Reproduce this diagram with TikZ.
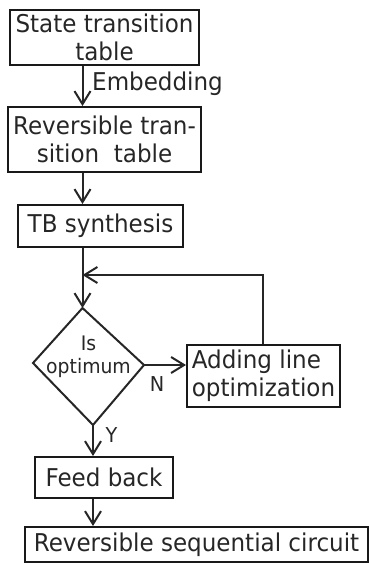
\documentclass[tikz,border=0pt]{standalone}
\usepackage{fontspec}
\setmainfont{DejaVu Sans}[FakeStretch=0.94]
\usetikzlibrary{arrows.meta}

\begin{document}
\begin{tikzpicture}[x=1pt,y=-1pt,
  every node/.style={text=black!85},
  boxnode/.style={draw=black!90, line width=2pt, rectangle, inner sep=0pt,
    align=center, font=\fontsize{24.5}{28}\selectfont},
  tag/.style={inner sep=0pt, font=\fontsize{20.5}{24}\selectfont},
  link/.style={draw=black!85, line width=2pt},
  arr/.style={link, -{Straight Barb[length=13pt,width=16pt,line width=2pt]}}
]
\useasboundingbox (0,0) rectangle (369,563);

% process boxes
\node[boxnode, minimum width=189pt, minimum height=55pt] (b1) at (104.5,37.5)
  {State transition\\table};
\node[boxnode, minimum width=193pt, minimum height=65pt] (b2) at (104.5,139.5)
  {Reversible tran-\\sition\ \ table};
\node[boxnode, minimum width=165pt, minimum height=42pt] (b3) at (100.5,226)
  {TB synthesis};
\node[boxnode, minimum width=153pt, minimum height=62pt, align=left] (add) at (263.5,376)
  {Adding line\\optimization};
\node[boxnode, minimum width=138pt, minimum height=41pt] (fb) at (104,477.5)
  {Feed back};
\node[boxnode, minimum width=343pt, minimum height=35pt] (out) at (196.5,544.5)
  {Reversible sequential circuit};

% decision diamond
\coordinate (dtop) at (82.5,308);
\coordinate (dright) at (144,365);
\coordinate (dbot) at (93,425);
\coordinate (dleft) at (33,363);
\draw[link, line join=miter] (dtop) -- (dright) -- (dbot) -- (dleft) -- cycle;
\node[inner sep=0pt, align=center, font=\fontsize{20}{23}\selectfont] (dtext) at (88.5,357)
  {Is\\optimum};

% helper coordinates for the vertical spine and the loop back
\coordinate (spine) at (82.5,0);
\coordinate (loop) at (263,275);

% connectors
\draw[arr] (b1.south -| spine) -- (b2.north -| spine);
\node[inner sep=0pt, font=\fontsize{24.5}{28}\selectfont, anchor=west] (emb) at (92,84) {Embedding};
\draw[arr] (b2.south -| spine) -- (b3.north -| spine);
\draw[arr] (b3.south -| spine) -- (dtop);
\draw[arr] (add.north -| loop) -- (loop) -- (loop -| spine);
\draw[arr] (dright) -- (dright -| add.west);
\node[tag] (nlab) at (157,384.5) {N};
\draw[arr] (dbot) -- (dbot |- fb.north);
\node[tag] (ylab) at (111.5,435.5) {Y};
\draw[arr] (fb.south -| dbot) -- (out.north -| dbot);
\end{tikzpicture}
\end{document}
